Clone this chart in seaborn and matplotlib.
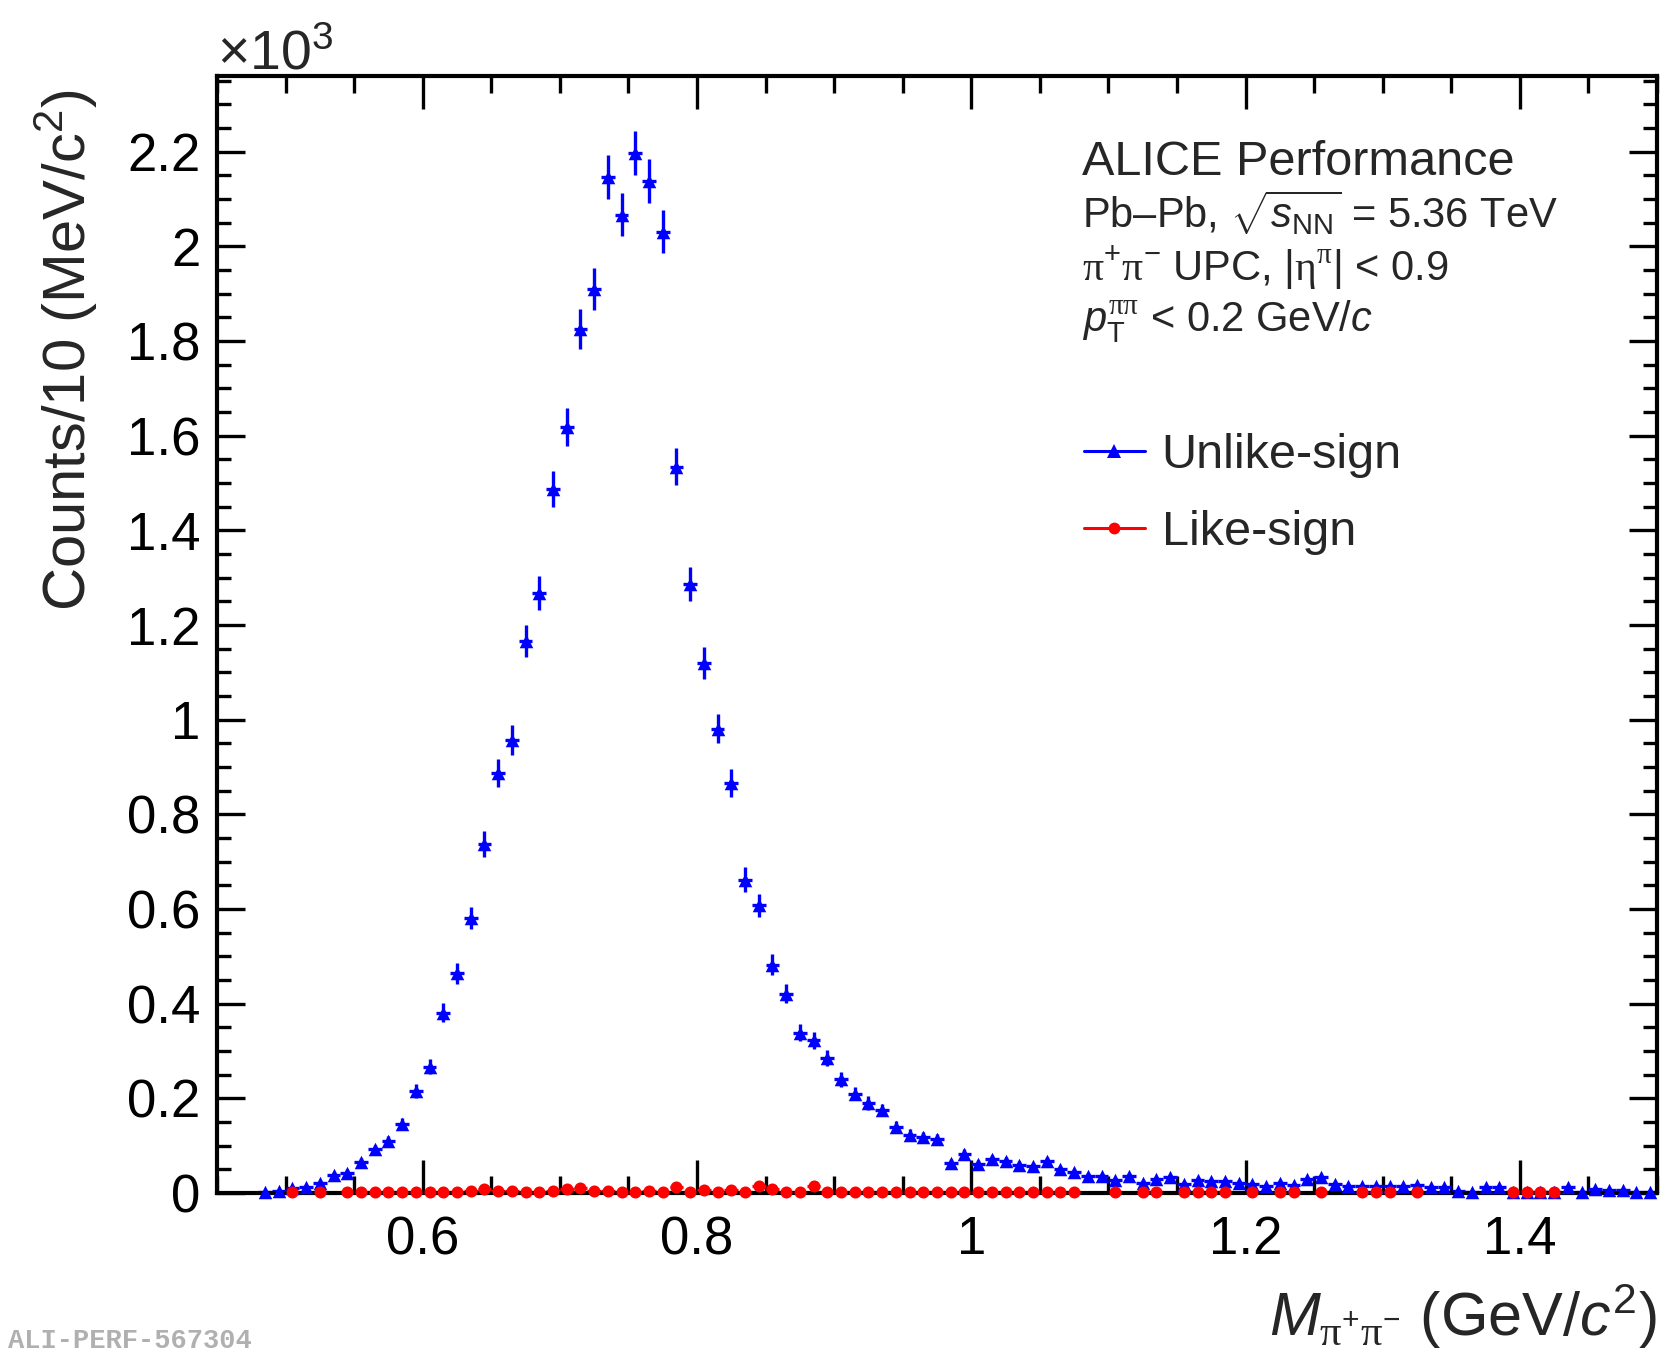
import numpy as np
import pandas as pd
import matplotlib
matplotlib.use("Agg")
import matplotlib.pyplot as plt
import seaborn as sns
from matplotlib.ticker import MultipleLocator, FuncFormatter
from matplotlib.lines import Line2D

# ---------------- data (counts in units of 10^3 per 10 MeV/c^2 bin) ----------------
bin_width = 0.01
first_bin_center = 0.485

unlike_sign = [
    0.001, 0.004, 0.011, 0.013, 0.020, 0.038, 0.043, 0.065, 0.092, 0.110,
    0.146, 0.215, 0.267, 0.381, 0.464, 0.581, 0.738, 0.888, 0.957, 1.166,
    1.267, 1.487, 1.619, 1.825, 1.910, 2.146, 2.067, 2.197, 2.139, 2.031,
    1.534, 1.287, 1.120, 0.981, 0.866, 0.662, 0.608, 0.482, 0.421, 0.339,
    0.323, 0.285, 0.240, 0.210, 0.190, 0.175, 0.140, 0.123, 0.118, 0.113,
    0.064, 0.083, 0.061, 0.072, 0.068, 0.060, 0.056, 0.067, 0.050, 0.044,
    0.036, 0.035, 0.027, 0.036, 0.022, 0.029, 0.033, 0.019, 0.028, 0.026,
    0.026, 0.022, 0.019, 0.015, 0.022, 0.017, 0.029, 0.033, 0.019, 0.015,
    0.014, 0.014, 0.015, 0.015, 0.017, 0.012, 0.012, 0.005, 0.003, 0.012,
    0.012, 0.003, 0.001, 0.001, 0.003, 0.012, 0.001, 0.008, 0.007, 0.007,
    0.001, 0.003,
]

N = None
like_sign = [
    N, N, 0.002, N, 0.002, N, 0.002, 0.001, 0.001, 0.001,
    0.001, 0.002, 0.003, 0.003, 0.003, 0.004, 0.008, 0.005, 0.004, 0.002,
    0.003, 0.004, 0.009, 0.010, 0.004, 0.004, 0.003, 0.001, 0.005, 0.003,
    0.012, 0.003, 0.007, 0.001, 0.007, 0.003, 0.014, 0.009, 0.001, 0.001,
    0.014, 0.002, 0.001, 0.001, 0.001, 0.002, 0.002, 0.001, 0.001, 0.001,
    0.001, 0.002, 0.001, 0.001, 0.001, 0.001, 0.001, 0.001, 0.001, 0.001,
    N, N, 0.001, N, 0.001, 0.001, N, 0.001, 0.001, 0.001,
    0.001, N, 0.001, N, 0.001, 0.001, N, 0.001, N, N,
    0.001, 0.001, 0.001, N, 0.001, N, N, N, N, N,
    N, 0.001, 0.001, 0.001, 0.001, N, N, N, N, N,
    N, N,
]

x_ticks = [0.6, 0.8, 1.0, 1.2, 1.4]
y_ticks = [0, 0.2, 0.4, 0.6, 0.8, 1.0, 1.2, 1.4, 1.6, 1.8, 2.0, 2.2]

# ---------------- build table ----------------
n_bins = len(unlike_sign)
mass = np.round(first_bin_center + bin_width * np.arange(n_bins), 3)
df = pd.DataFrame({
    "mass": mass,
    "unlike": np.array(unlike_sign, dtype=float),
    "like": np.array([np.nan if v is None else v for v in like_sign], dtype=float),
})
df["unlike_err"] = np.sqrt(df["unlike"] * 1000.0) / 1000.0
df["like_err"] = np.sqrt(df["like"] * 1000.0) / 1000.0

# ---------------- style ----------------
sns.set_theme(style="ticks")
plt.rcParams.update({
    "font.family": ["Liberation Sans", "DejaVu Sans"],
    "mathtext.fontset": "custom",
    "mathtext.rm": "Liberation Sans",
    "mathtext.it": "Liberation Sans:italic",
    "mathtext.bf": "Liberation Sans:bold",
    "mathtext.sf": "Liberation Serif",
    "axes.linewidth": 3.0,
    "axes.edgecolor": "black",
})

fig = plt.figure(figsize=(16.63, 13.53), dpi=100)
ax = fig.add_axes([0.1305, 0.1183, 0.8659, 0.8255])

# error bars
ax.errorbar(df["mass"], df["unlike"], xerr=bin_width / 2, yerr=df["unlike_err"],
            fmt="none", ecolor="blue", elinewidth=2.4, capsize=0, zorder=2)
dl = df.dropna(subset=["like"])
ax.errorbar(dl["mass"], dl["like"], xerr=bin_width / 2, yerr=dl["like_err"],
            fmt="none", ecolor="red", elinewidth=2.4, capsize=0, zorder=2)

# markers
sns.scatterplot(data=df, x="mass", y="unlike", marker="^", s=95, color="blue",
                linewidth=0, ax=ax, zorder=3, clip_on=False)
sns.scatterplot(data=dl, x="mass", y="like", marker="o", s=75, color="red",
                linewidth=0, ax=ax, zorder=4, clip_on=False)

ax.set_xlim(0.45, 1.5)
ax.set_ylim(0, 2.36)

ax.set_xticks(x_ticks)
ax.set_yticks(y_ticks)
ax.xaxis.set_minor_locator(MultipleLocator(0.05))
ax.yaxis.set_minor_locator(MultipleLocator(0.05))
fmt = FuncFormatter(lambda v, p: "%g" % round(v, 3))
ax.xaxis.set_major_formatter(fmt)
ax.yaxis.set_major_formatter(fmt)

ax.tick_params(which="both", direction="in", top=True, right=True, width=2.4, colors="black")
ax.tick_params(axis="x", which="major", length=24, labelsize=38, pad=16)
ax.tick_params(axis="x", which="minor", length=12)
ax.tick_params(axis="y", which="major", length=20, labelsize=38, pad=12)
ax.tick_params(axis="y", which="minor", length=10)
for s in ax.spines.values():
    s.set_linewidth(3.0)
    s.set_visible(True)

ax.set_xlabel(r"$M_{\mathsf{\pi}^{+}\mathsf{\pi}^{-}}$ (GeV/$c^{2}$)", fontsize=44, loc="right")
ax.xaxis.set_label_coords(1.0, -0.079)
ax.set_ylabel(r"Counts/10 (MeV/c$^{2}$)", fontsize=43, loc="top")
ax.yaxis.set_label_coords(-0.081, 0.988)

ax.text(0.0, 0.995, r"$\times10^{3}$", transform=ax.transAxes, fontsize=40,
        ha="left", va="bottom")

# annotation block
tx = 0.601
ax.text(tx, 0.911, "ALICE Performance", transform=ax.transAxes, fontsize=35,
        ha="left", va="baseline")
ax.text(tx, 0.864, r"Pb–Pb, $\sqrt{s_{\mathrm{NN}}}$ = 5.36 TeV", transform=ax.transAxes,
        fontsize=30, ha="left", va="baseline")
ax.text(tx, 0.817, r"$\mathsf{\pi}^{+}\mathsf{\pi}^{-}$ UPC, |$\mathsf{\eta}^{\mathsf{\pi}}$| < 0.9",
        transform=ax.transAxes, fontsize=30, ha="left", va="baseline")
ax.text(tx, 0.771, r"$p_{\mathrm{T}}^{\mathsf{\pi\pi}}$ < 0.2 GeV/$c$", transform=ax.transAxes,
        fontsize=30, ha="left", va="baseline")

handles = [
    Line2D([], [], color="blue", marker="^", markersize=10.5, lw=2.2, markeredgewidth=0),
    Line2D([], [], color="red", marker="o", markersize=8.5, lw=2.2, markeredgewidth=0),
]
ax.legend(handles, ["Unlike-sign", "Like-sign"], loc="upper left",
          bbox_to_anchor=(0.602, 0.680), frameon=False, fontsize=35,
          handlelength=1.25, handletextpad=0.35, labelspacing=0.64,
          borderpad=0, borderaxespad=0)

# figure id watermark
fig.text(0.005, 0.004, "ALI-PERF-567304", fontsize=19.5, color="#b0b0b0",
         family=["Liberation Mono", "DejaVu Sans Mono"], weight="bold",
         ha="left", va="baseline")

fig.savefig("out.png", dpi=100)
